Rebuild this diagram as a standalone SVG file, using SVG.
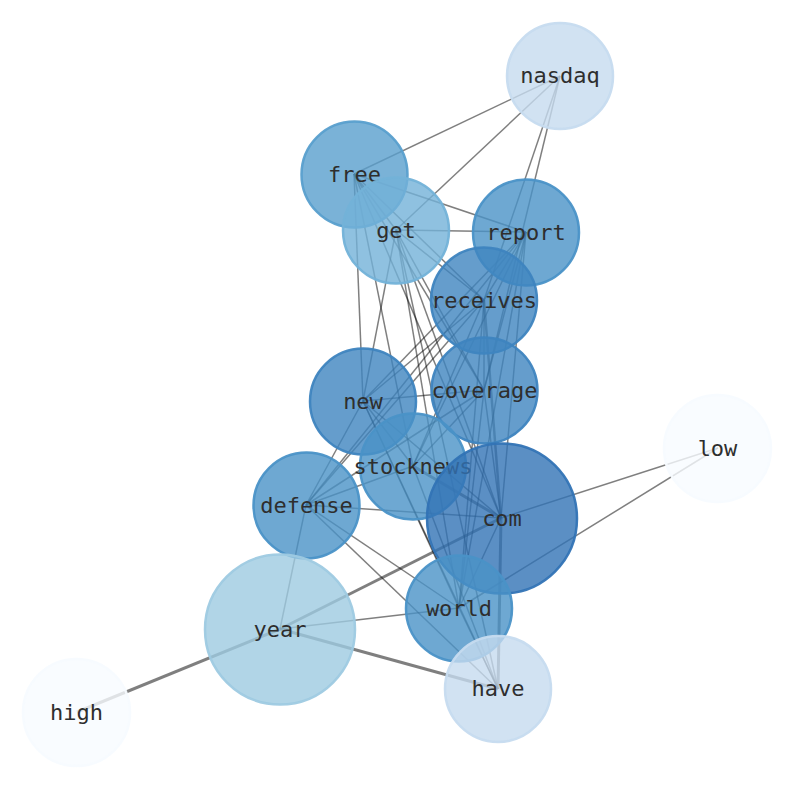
<svg xmlns="http://www.w3.org/2000/svg" width="794" height="790" viewBox="0 0 794 790">
<style>
.e{stroke:#000;stroke-opacity:0.5;stroke-width:1.5;fill:none}
.t{stroke-width:3}
.m{stroke-width:2.5}
.n circle{stroke-width:2.5;fill-opacity:0.8;stroke-opacity:0.95}
.n text{font-family:"DejaVu Sans Mono","Liberation Mono",monospace;font-size:22px;fill:#2e2e2e;text-anchor:middle}
</style>
<rect width="794" height="790" fill="#fff"/>
<g id="edges">
<line class="e" x1="560" y1="76" x2="354" y2="174"/>
<line class="e" x1="560" y1="76" x2="396" y2="230"/>
<line class="e" x1="560" y1="76" x2="484" y2="300"/>
<line class="e" x1="560" y1="76" x2="484" y2="390"/>
<line class="e" x1="354" y1="174" x2="396" y2="230"/>
<line class="e" x1="354" y1="174" x2="526" y2="232"/>
<line class="e" x1="354" y1="174" x2="363" y2="401"/>
<line class="e" x1="354" y1="174" x2="413" y2="466"/>
<line class="e" x1="354" y1="174" x2="484" y2="300"/>
<line class="e" x1="354" y1="174" x2="484" y2="390"/>
<line class="e" x1="354" y1="174" x2="501" y2="518"/>
<line class="e" x1="396" y1="230" x2="526" y2="232"/>
<line class="e" x1="396" y1="230" x2="363" y2="401"/>
<line class="e" x1="396" y1="230" x2="484" y2="300"/>
<line class="e" x1="396" y1="230" x2="484" y2="390"/>
<line class="e" x1="396" y1="230" x2="501" y2="518"/>
<line class="e" x1="396" y1="230" x2="459" y2="608"/>
<line class="e" x1="396" y1="230" x2="498" y2="689"/>
<line class="e" x1="526" y1="232" x2="484" y2="300"/>
<line class="e" x1="526" y1="232" x2="363" y2="401"/>
<line class="e" x1="526" y1="232" x2="306" y2="505"/>
<line class="e" x1="526" y1="232" x2="413" y2="466"/>
<line class="e" x1="526" y1="232" x2="484" y2="390"/>
<line class="e" x1="526" y1="232" x2="501" y2="518"/>
<line class="e" x1="526" y1="232" x2="459" y2="608"/>
<line class="e" x1="484" y1="300" x2="363" y2="401"/>
<line class="e" x1="484" y1="300" x2="306" y2="505"/>
<line class="e" x1="484" y1="300" x2="413" y2="466"/>
<line class="e m" x1="484" y1="300" x2="501" y2="518"/>
<line class="e" x1="484" y1="300" x2="459" y2="608"/>
<line class="e" x1="484" y1="300" x2="484" y2="390"/>
<line class="e" x1="363" y1="401" x2="484" y2="390"/>
<line class="e" x1="363" y1="401" x2="413" y2="466"/>
<line class="e" x1="363" y1="401" x2="306" y2="505"/>
<line class="e" x1="363" y1="401" x2="501" y2="518"/>
<line class="e" x1="363" y1="401" x2="459" y2="608"/>
<line class="e" x1="363" y1="401" x2="498" y2="689"/>
<line class="e" x1="484" y1="390" x2="306" y2="505"/>
<line class="e" x1="484" y1="390" x2="501" y2="518"/>
<line class="e" x1="484" y1="390" x2="459" y2="608"/>
<line class="e" x1="484" y1="390" x2="413" y2="466"/>
<line class="e" x1="413" y1="466" x2="306" y2="505"/>
<line class="e t" x1="413" y1="466" x2="501" y2="518"/>
<line class="e" x1="413" y1="466" x2="498" y2="689"/>
<line class="e" x1="306" y1="505" x2="501" y2="518"/>
<line class="e" x1="306" y1="505" x2="459" y2="608"/>
<line class="e" x1="306" y1="505" x2="498" y2="689"/>
<line class="e" x1="306" y1="505" x2="280" y2="629"/>
<line class="e" x1="501" y1="518" x2="718" y2="448"/>
<line class="e t" x1="501" y1="518" x2="280" y2="629"/>
<line class="e" x1="501" y1="518" x2="459" y2="608"/>
<line class="e t" x1="501" y1="518" x2="498" y2="689"/>
<line class="e" x1="459" y1="608" x2="280" y2="629"/>
<line class="e" x1="459" y1="608" x2="718" y2="448"/>
<line class="e" x1="459" y1="608" x2="498" y2="689"/>
<line class="e t" x1="280" y1="629" x2="498" y2="689"/>
<line class="e t" x1="280" y1="629" x2="77" y2="712"/>
</g>
<g id="node-nasdaq" class="n"><circle cx="560" cy="76" r="53" fill="#c6dbef" stroke="#c6dbef"/><text x="560" y="83">nasdaq</text></g>
<g id="node-free" class="n"><circle cx="354.5" cy="174.5" r="53" fill="#599fcd" stroke="#599fcd"/><text x="354.5" y="181.5">free</text></g>
<g id="node-get" class="n"><circle cx="396" cy="230.5" r="53" fill="#73b2d8" stroke="#73b2d8"/><text x="396" y="237.5">get</text></g>
<g id="node-report" class="n"><circle cx="526" cy="232.5" r="53" fill="#4a92c7" stroke="#4a92c7"/><text x="526" y="239.5">report</text></g>
<g id="node-receives" class="n"><circle cx="484" cy="300.5" r="53" fill="#3e84bf" stroke="#3e84bf"/><text x="484" y="307.5">receives</text></g>
<g id="node-coverage" class="n"><circle cx="484.5" cy="390.5" r="53" fill="#3e84bf" stroke="#3e84bf"/><text x="484.5" y="397.5">coverage</text></g>
<g id="node-new" class="n"><circle cx="363" cy="401.5" r="53" fill="#3e84bf" stroke="#3e84bf"/><text x="363" y="408.5">new</text></g>
<g id="node-stocknews" class="n"><circle cx="413" cy="466.5" r="53" fill="#4a92c7" stroke="#4a92c7"/><text x="413" y="473.5">stocknews</text></g>
<g id="node-low" class="n"><circle cx="717.5" cy="448.5" r="53.5" fill="#f7fbff" stroke="#f7fbff"/><text x="717.5" y="455.5">low</text></g>
<g id="node-defense" class="n"><circle cx="306.5" cy="505.5" r="53" fill="#4a92c7" stroke="#4a92c7"/><text x="306.5" y="512.5">defense</text></g>
<g id="node-com" class="n"><circle cx="502" cy="518.5" r="75" fill="#3273b5" stroke="#3273b5"/><text x="502" y="525.5">com</text></g>
<g id="node-world" class="n"><circle cx="459" cy="608.5" r="53" fill="#4a92c7" stroke="#4a92c7"/><text x="459" y="615.5">world</text></g>
<g id="node-year" class="n"><circle cx="280" cy="629.5" r="75" fill="#9ecae1" stroke="#9ecae1"/><text x="280" y="636.5">year</text></g>
<g id="node-high" class="n"><circle cx="76.5" cy="712.5" r="53.5" fill="#f7fbff" stroke="#f7fbff"/><text x="76.5" y="719.5">high</text></g>
<g id="node-have" class="n"><circle cx="498" cy="689" r="53" fill="#c6dbef" stroke="#c6dbef"/><text x="498" y="696">have</text></g>
</svg>
